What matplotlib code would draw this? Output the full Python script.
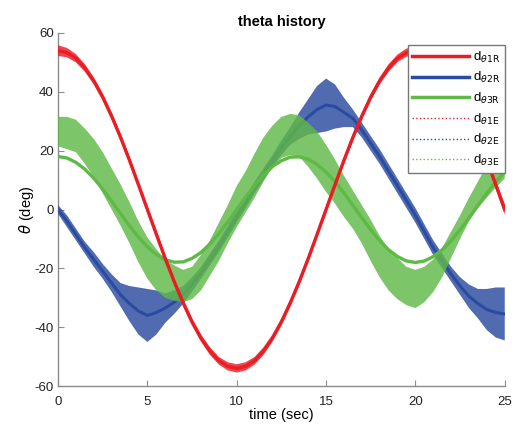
import matplotlib
matplotlib.use("Agg")
import matplotlib.pyplot as plt
from matplotlib.lines import Line2D
import numpy as np

plt.rcParams['font.family'] = ['Liberation Sans', 'DejaVu Sans']
plt.rcParams['mathtext.fontset'] = 'dejavusans'
plt.rcParams['axes.unicode_minus'] = False

# sample times (sec)
t = [0, 0.5, 1, 1.5, 2, 2.5, 3, 3.5, 4, 4.5,
     5, 5.5, 6, 6.5, 7, 7.5, 8, 8.5, 9, 9.5,
     10, 10.5, 11, 11.5, 12, 12.5, 13, 13.5, 14, 14.5,
     15, 15.5, 16, 16.5, 17, 17.5, 18, 18.5, 19, 19.5,
     20, 20.5, 21, 21.5, 22, 22.5, 23, 23.5, 24, 24.5, 25]

# reference angles (deg)
d1r = [54.0, 53.3, 51.4, 48.1, 43.7, 38.2, 31.7, 24.5, 16.7, 8.4,
       0.0, -8.4, -16.7, -24.5, -31.7, -38.2, -43.7, -48.1, -51.4, -53.3,
       -54.0, -53.3, -51.4, -48.1, -43.7, -38.2, -31.7, -24.5, -16.7, -8.4,
       0.0, 8.4, 16.7, 24.5, 31.7, 38.2, 43.7, 48.1, 51.4, 53.3,
       54.0, 53.3, 51.4, 48.1, 43.7, 38.2, 31.7, 24.5, 16.7, 8.4, 0.0]
d2r = [0.0, -4.0, -8.5, -13.0, -17.0, -21.0, -25.0, -29.0, -32.0, -34.5,
       -36.0, -35.0, -33.5, -31.5, -29.0, -25.5, -21.5, -17.0, -12.5, -7.5,
       -2.5, 2.5, 7.5, 12.0, 16.5, 21.0, 25.0, 28.5, 31.5, 34.0,
       35.5, 35.0, 33.0, 31.0, 27.0, 22.5, 18.0, 13.0, 8.0, 3.0,
       -2.0, -7.5, -13.0, -17.5, -22.0, -26.0, -29.5, -32.0, -34.0, -35.0, -35.5]
d3r = [18.0, 17.5, 16.0, 13.7, 10.6, 6.9, 2.8, -1.4, -5.6, -9.4,
       -12.7, -15.3, -17.1, -17.9, -17.8, -16.6, -14.6, -11.7, -8.2, -4.2,
       0.0, 4.2, 8.2, 11.7, 14.6, 16.6, 17.8, 17.9, 17.1, 15.3,
       12.7, 9.4, 5.6, 1.4, -2.8, -6.9, -10.6, -13.7, -16.0, -17.5,
       -18.0, -17.5, -16.0, -13.7, -10.6, -6.9, -2.8, 1.4, 5.6, 9.4, 12.7]

# estimated angles: mean of the noisy trace and half width of its scatter
d1e_mid = d1r
d1e_spread = [1.8, 1.6, 1.4, 1.3, 1.2, 1.2, 1.2, 1.2, 1.2, 1.2,
              1.2, 1.2, 1.2, 1.2, 1.2, 1.2, 1.2, 1.3, 1.3, 1.4,
              1.4, 1.4, 1.3, 1.3, 1.2, 1.2, 1.2, 1.2, 1.2, 1.2,
              1.2, 1.2, 1.2, 1.2, 1.2, 1.2, 1.2, 1.3, 1.3, 1.4,
              1.4, 1.4, 1.3, 1.3, 1.2, 1.2, 1.2, 1.2, 1.3, 1.5, 1.8]
d2e_mid = d2r
d2e_spread = [1.5, 2.0, 2.0, 2.0, 2.5, 2.5, 3.0, 4.0, 6.0, 8.0,
              9.0, 7.5, 5.0, 4.0, 3.0, 2.5, 2.0, 2.0, 2.0, 2.0,
              2.0, 2.0, 2.0, 2.0, 2.0, 2.5, 3.0, 4.5, 6.0, 8.0,
              9.0, 7.5, 5.0, 3.0, 2.5, 2.5, 2.5, 2.5, 2.5, 2.5,
              2.5, 2.5, 2.5, 2.5, 2.5, 3.0, 4.0, 5.0, 7.0, 8.5, 9.0]
d3e_mid = [26.5, 26.0, 25.0, 21.5, 17.5, 12.5, 7.0, 1.5, -4.5, -11.0,
           -16.5, -20.5, -23.5, -25.0, -26.0, -25.0, -21.5, -16.5, -11.0, -5.0,
           1.0, 6.0, 11.5, 17.0, 21.5, 24.5, 25.5, 25.0, 22.0, 18.5,
           14.0, 9.5, 4.5, 0.0, -5.0, -10.5, -16.0, -20.5, -23.5, -26.0,
           -27.0, -25.5, -22.5, -18.0, -12.0, -6.0, 0.0, 5.0, 9.5, 14.0, 18.0]
d3e_spread = [5.0, 5.5, 5.5, 6.0, 6.5, 7.0, 7.0, 7.0, 7.0, 7.0,
              7.0, 7.0, 6.5, 6.0, 5.5, 5.5, 6.0, 6.0, 6.5, 6.5,
              7.0, 7.0, 7.5, 7.5, 7.0, 7.0, 7.0, 7.0, 7.5, 8.0,
              8.0, 7.5, 7.0, 6.5, 6.5, 7.0, 7.0, 7.0, 7.0, 6.5,
              6.5, 6.0, 5.5, 5.0, 4.5, 4.0, 4.0, 4.5, 5.5, 6.5, 7.5]

labels_r = [r'd$_{\theta\mathrm{1R}}$', r'd$_{\theta\mathrm{2R}}$', r'd$_{\theta\mathrm{3R}}$']
labels_e = [r'd$_{\theta\mathrm{1E}}$', r'd$_{\theta\mathrm{2E}}$', r'd$_{\theta\mathrm{3E}}$']
colors = ['#ec1c24', '#2b4ba0', '#5fb947']

fig = plt.figure(figsize=(5.14, 4.28), dpi=100)
ax = fig.add_axes([0.113, 0.098, 0.869, 0.825])

ts = np.array(t)

def band(mid, spread, color, z):
    # scatter of the estimate drawn as a band around its mean
    mid = np.array(mid)
    spread = np.array(spread)
    ax.fill_between(ts, mid - spread, mid + spread, facecolor=color,
                    alpha=0.82, linewidth=0, zorder=z)

# draw order: blue, green, red on top
ax.plot(ts, d2r, color=colors[1], lw=2.2, zorder=2)
band(d2e_mid, d2e_spread, colors[1], 3)
band(d3e_mid, d3e_spread, colors[2], 4)
ax.plot(ts, d3r, color=colors[2], lw=2.4, zorder=5)
band(d1e_mid, d1e_spread, colors[0], 6)
ax.plot(ts, d1r, color=colors[0], lw=2.4, zorder=7)

ax.set_xlim(0, 25)
ax.set_ylim(-60, 60)
ax.set_xticks([0, 5, 10, 15, 20, 25])
ax.set_yticks([-60, -40, -20, 0, 20, 40, 60])
for s in ['top', 'right']:
    ax.spines[s].set_visible(False)
for s in ['left', 'bottom']:
    ax.spines[s].set_color('#8c8c8c')
    ax.spines[s].set_linewidth(1.0)
ax.tick_params(direction='in', length=4, color='#8c8c8c', labelsize=9.5,
               labelcolor='#222222', pad=3)
ax.tick_params(axis='x', pad=7)

ax.set_title('theta history', fontsize=10.5, fontweight='bold', pad=5)
ax.set_xlabel('time (sec)', fontsize=10.5, labelpad=0)
ax.set_ylabel(r'$\theta$ (deg)', fontsize=10.5, labelpad=-1)

handles = [Line2D([], [], color=c, lw=2.5) for c in colors]
handles += [Line2D([], [], color=c, lw=1.0, ls=':') for c in colors]
leg = ax.legend(handles, labels_r + labels_e, loc='upper right',
                bbox_to_anchor=(1.0, 0.966), borderaxespad=0, fontsize=9.5,
                handlelength=4.3, handletextpad=0.3, labelspacing=0.42,
                fancybox=False, framealpha=1, borderpad=0.35)
leg.get_frame().set_edgecolor('#777777')
leg.get_frame().set_linewidth(1.0)
leg.set_zorder(10)

fig.savefig('out.png', dpi=100)
